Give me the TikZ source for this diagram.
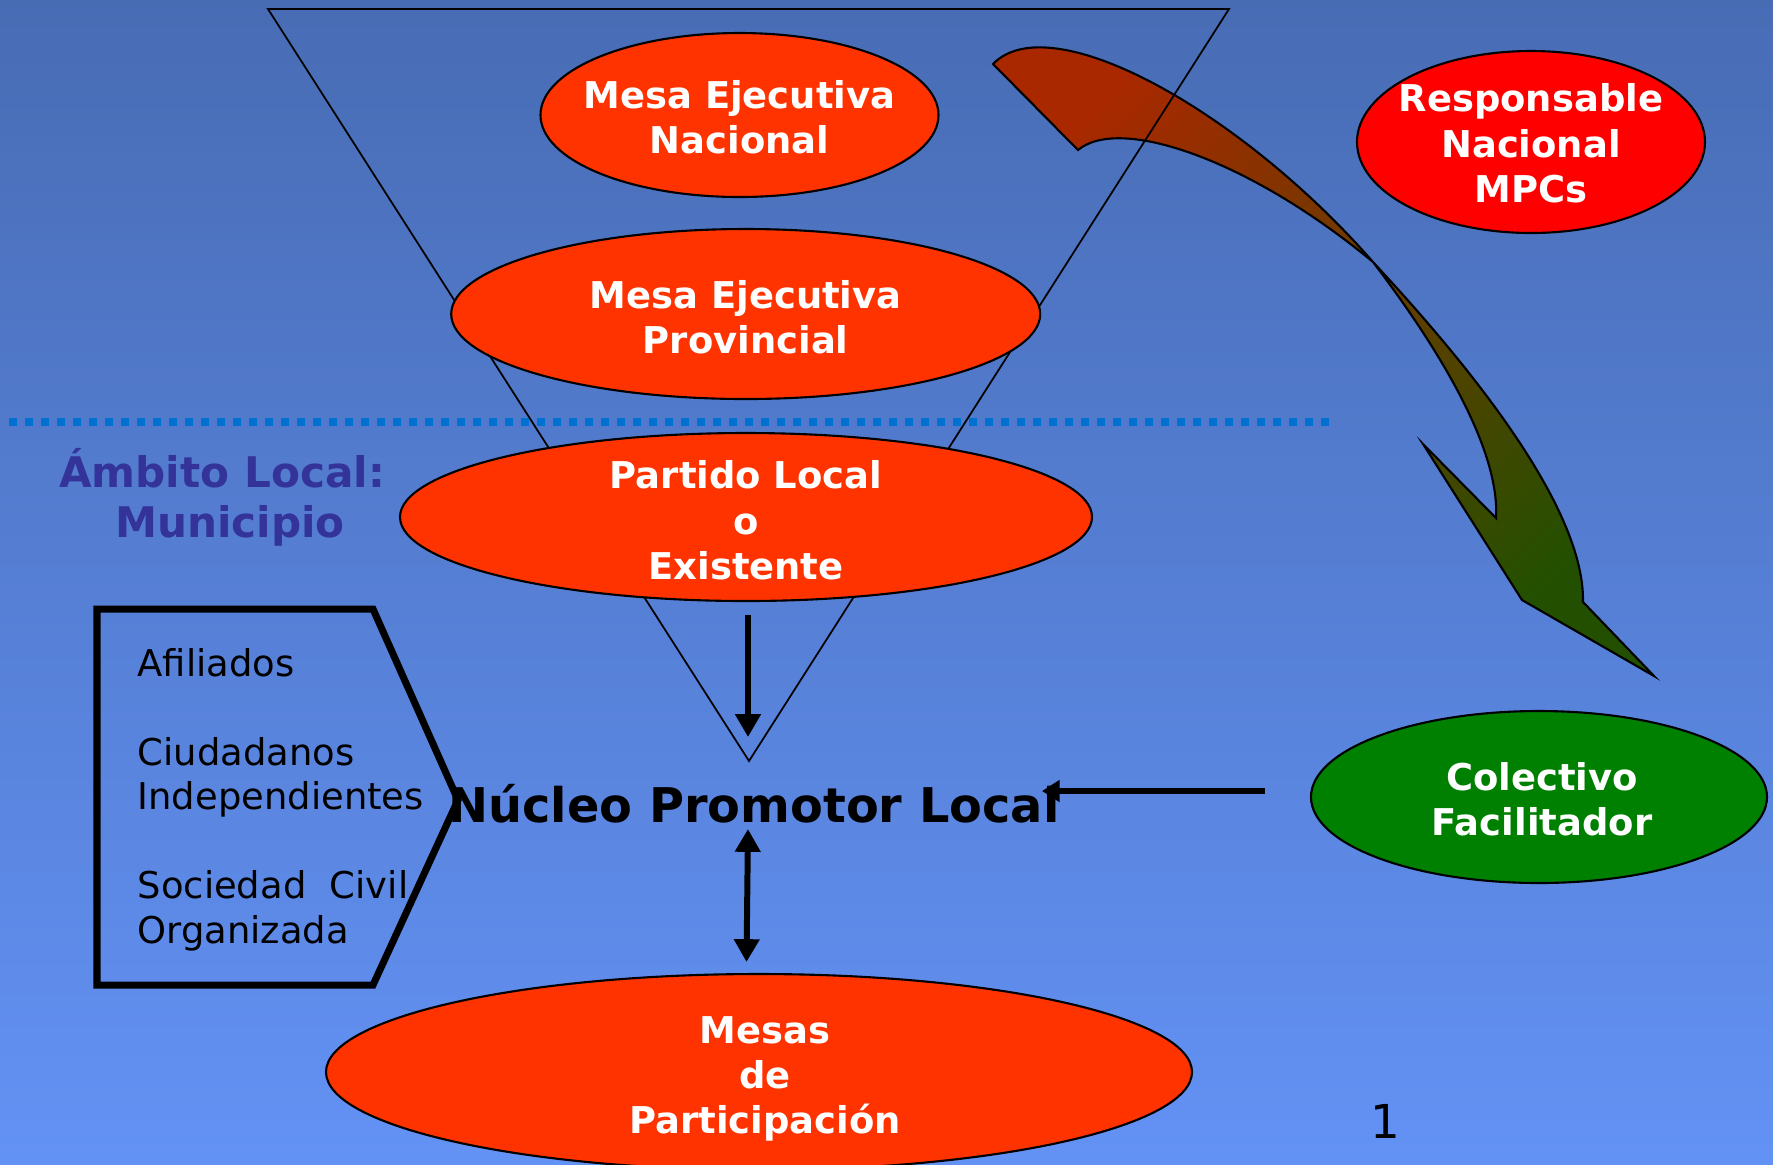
\documentclass[tikz,border=0pt]{standalone}
\usepackage{fontspec}
\setmainfont{DejaVu Sans}
\usetikzlibrary{arrows.meta,shapes.geometric}
\definecolor{bgtop}{RGB}{72,108,180}
\definecolor{bgbot}{RGB}{99,146,245}
\definecolor{ovalred}{RGB}{255,51,0}
\definecolor{brightred}{RGB}{255,0,0}
\definecolor{darkgreen}{RGB}{0,128,0}
\definecolor{dotblue}{RGB}{0,112,210}
\definecolor{ambito}{RGB}{51,51,153}
\definecolor{arrowtail}{RGB}{170,40,0}
\definecolor{arrowhead}{RGB}{35,80,0}
\begin{document}
\begin{tikzpicture}[x=0.1mm,y=-0.1mm,
  oval/.style={ellipse,draw=black,line width=0.6pt,fill=ovalred,inner sep=0pt},
  ovaltext/.style={text=white,align=center,inner sep=0pt,font=\fontsize{10.5}{12.9}\selectfont\bfseries},
  boxtext/.style={anchor=base west,inner sep=0pt,font=\fontsize{10.5}{12.7}\selectfont},
  ambtext/.style={anchor=base,inner sep=0pt,text=ambito,font=\fontsize{12}{14.4}\selectfont\bfseries},
  conn/.style={line width=1.7pt,-{Triangle[width=7pt,length=6.5pt]}},
  dconn/.style={line width=1.7pt,{Triangle[width=7pt,length=6.5pt]}-{Triangle[width=7pt,length=6.5pt]}},
  lconn/.style={line width=1.7pt,-{Triangle[width=6pt,length=5pt]}}
]
\useasboundingbox (0,0) rectangle (1773,1164);
\shade[top color=bgtop,bottom color=bgbot] (0,0) rectangle (1773,1164);

% curved arrow
\shade[draw=black,line width=0.6pt,top color=arrowtail,bottom color=arrowhead,shading angle=45]
 (993,64) .. controls (1050,5) and (1240,110) .. (1373,262)
 .. controls (1450,345) and (1585,500) .. (1583,602)
 -- (1654,676) -- (1522,600) -- (1423,444) -- (1496,518)
 .. controls (1500,450) and (1440,350) .. (1373,262)
 .. controls (1250,160) and (1120,115) .. (1078,150) -- cycle;

% funnel triangle
\draw[line width=0.5pt] (268,9) -- (1229,9) -- (749,761) -- cycle;

% dotted separator
\coordinate (dl) at (9,422);
\coordinate (dr) at (1334,422);
\draw[dotblue,line width=0.8mm,dash pattern=on 0.8mm off 0.8mm] (dl) -- (dr);

% ovals
\node[oval,minimum width=39.8mm,minimum height=16.4mm] (nac) at (739.5,115) {};
\node[ovaltext] (nacT) at ([yshift=-0.25mm]nac.center) {Mesa Ejecutiva\\Nacional};
\node[oval,minimum width=58.9mm,minimum height=17mm] (prov) at (745.7,314) {};
\node[ovaltext] (provT) at ([yshift=-0.35mm]prov.center) {Mesa Ejecutiva\\Provincial};
\node[oval,minimum width=69.2mm,minimum height=16.8mm] (partido) at (746,517) {};
\node[ovaltext] (partidoT) at ([yshift=-0.35mm]partido.center) {Partido Local\\o\\Existente};
\node[oval,minimum width=86.6mm,minimum height=19.6mm] (mesas) at (759,1072) {};
\node[ovaltext] (mesasT) at ([xshift=0.6mm,yshift=-0.7mm]mesas.center) {Mesas\\de\\Participación};
\node[oval,fill=brightred,minimum width=34.8mm,minimum height=18.2mm] (resp) at (1531,142) {};
\node[ovaltext] (respT) at ([yshift=-0.15mm]resp.center) {Responsable\\Nacional\\MPCs};
\node[oval,fill=darkgreen,minimum width=45.6mm,minimum height=17.2mm] (colec) at (1539,797) {};
\node[ovaltext] (colecT) at ([xshift=0.3mm,yshift=-0.25mm]colec.center) {Colectivo\\Facilitador};

% ambito label
\node[ambtext] (amb1) at (222,487) {Ámbito Local:};
\node[ambtext] (amb2) at (230,537) {Municipio};

% pentagon box
\draw[line width=2pt] (97,609) -- (373,609) -- (458,800) -- (373,985) -- (97,985) -- cycle;
\node[boxtext] (t1) at (137,676) {Afiliados};
\node[boxtext] (t2) at (137,765) {Ciudadanos};
\node[boxtext] (t3) at (137,809) {Independientes};
\node[boxtext] (t4) at (137,898) {Sociedad\ \ Civil};
\node[boxtext] (t5) at (137,943) {Organizada};

% nucleo
\node[anchor=base,inner sep=0pt,font=\fontsize{13.6}{16}\selectfont\bfseries] (nucleo) at (754,822) {Núcleo Promotor Local};

% connectors
\coordinate (dtip) at (748,737);
\draw[conn,shorten <=1.3mm] (partido.south -| dtip) -- (dtip);
\coordinate (u1) at (748,829);
\coordinate (u2) at (746.5,962);
\draw[dconn] (u1) -- (u2);
\coordinate (ltip) at (1042,791);
\draw[lconn,shorten <=4.5mm] (colec.west |- ltip) -- (ltip);

% page number
\node[anchor=base,inner sep=0pt,font=\fontsize{13.3}{16}\selectfont] (pnum) at (1385,1138) {1};
\end{tikzpicture}
\end{document}
